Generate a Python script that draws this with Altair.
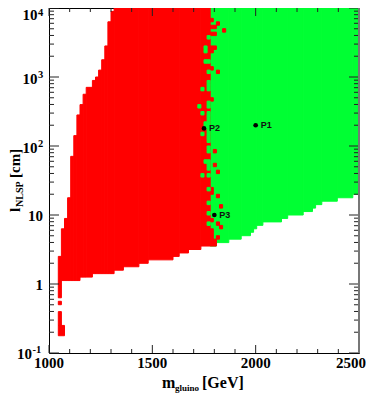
import altair as alt
import pandas as pd

W, H = 310, 345
RED = "#ff0000"
GREEN = "#00ff33"
SERIF = "Liberation Serif"

# ---------------- data ----------------
# red region, column blocks: left/right edge (GeV), top/bottom (cm)
red_m0 = [1045, 1060, 1075, 1090, 1105, 1120, 1135, 1150, 1165, 1180, 1210, 1225, 1240,
          1255, 1270, 1285, 1300, 1315, 1360, 1435, 1480, 1600, 1630, 1675, 1735,
          1045, 1045, 1045]
red_m1 = [1060, 1075, 1090, 1105, 1120, 1135, 1150, 1165, 1180, 1210, 1225, 1240, 1255,
          1270, 1285, 1300, 1315, 1360, 1435, 1480, 1600, 1630, 1675, 1735, 1780,
          1060, 1060, 1075]
red_top = [2.512, 6.310, 8.913, 17.78, 70.79, 141.3, 281.8, 398.1, 562.3, 707.9, 891.3, 1000,
           1259, 1778, 2818, 6310, 8913, 10000, 10000, 10000, 10000, 10000, 10000, 10000, 10000,
           0.562, 0.398, 0.251]
red_bot = [0.631, 1.122, 1.122, 1.122, 1.122, 1.122, 1.122, 1.259, 1.259, 1.259, 1.413, 1.413,
           1.413, 1.413, 1.413, 1.413, 1.413, 1.585, 1.778, 1.995, 2.239, 2.512, 2.818, 3.162,
           3.548, 0.501, 0.251, 0.178]

# green region, column blocks
grn_m0 = [1780, 1810, 1870, 1930, 1975, 1990, 2005, 2035, 2125, 2155, 2230, 2275, 2290, 2320, 2395, 2470]
grn_m1 = [1810, 1870, 1930, 1975, 1990, 2005, 2035, 2125, 2155, 2230, 2275, 2290, 2320, 2395, 2470, 2500]
grn_bot = [3.548, 3.981, 4.467, 5.012, 5.623, 6.310, 7.079, 7.943, 8.913, 10.0, 11.22, 12.59,
           14.13, 15.85, 17.78, 19.95]

# red/green border per grid row (row 0 = top, rows are 1/20 decade tall):
# GeV at which green starts in that row
edge_m = [1780, 1780, 1780, 1795, 1780, 1810, 1780, 1810, 1765, 1780,
          1780, 1810, 1795, 1780, 1780, 1765, 1780, 1795, 1765, 1780,
          1780, 1765, 1765, 1765, 1780, 1780, 1795, 1765, 1765, 1780,
          1765, 1765, 1765, 1750, 1750, 1765, 1765, 1765, 1765, 1780,
          1765, 1765, 1780, 1780, 1765, 1765, 1765, 1780, 1765, 1780,
          1780, 1780, 1795, 1795, 1780, 1780, 1765, 1780, 1780, 1765,
          1780, 1795, 1765, 1780, 1795, 1795, 1795, 1810, 1810]
# isolated cells (left edge GeV, grid row)
red_cell_m = [1810, 1840, 1810, 1795, 1795, 1810, 1810, 1825, 1810, 1825, 1810]
red_cell_r = [4, 6, 18, 41, 45, 47, 54, 57, 62, 63, 66]
grn_cell_m = [1750, 1750, 1750, 1735, 1720, 1735, 1735, 1750, 1735, 1765]
grn_cell_r = [11, 12, 15, 23, 28, 30, 36, 44, 48, 52]

pts_name = ["P1", "P2", "P3"]
pts_m = [2000, 1750, 1800]
pts_l = [200, 180, 10]

xt_major = [1000, 1500, 2000, 2500]
xt_minor = [1100, 1200, 1300, 1400, 1600, 1700, 1800, 1900, 2100, 2200, 2300, 2400]
yt_major = [0.1, 1, 10, 100, 1000, 10000]
ylab_base = ["10", "1", "10", "10", "10", "10"]
ylab_exp = ["-1", "", "", "2", "3", "4"]

CELL = 15.0  # grid column width (GeV)


def row_top(r):
    return 10 ** (4 - r / 20)


def row_bot(r):
    return 10 ** (4 - (r + 1) / 20)


# ---------------- tables ----------------
rows = []
for a, b, lo in zip(grn_m0, grn_m1, grn_bot):
    rows.append((a, b, 10000, lo, GREEN, 0))
for a, b, t, lo in zip(red_m0, red_m1, red_top, red_bot):
    rows.append((a, b, t, lo, RED, 1))
for r, e in enumerate(edge_m):
    if e > 1780:
        rows.append((1780, e, row_top(r), row_bot(r), RED, 2))
    elif e < 1780:
        rows.append((e, 1780, row_top(r), row_bot(r), GREEN, 2))
for m, r in zip(red_cell_m, red_cell_r):
    rows.append((m, m + CELL, row_top(r), row_bot(r), RED, 3))
for m, r in zip(grn_cell_m, grn_cell_r):
    rows.append((m, m + CELL, row_top(r), row_bot(r), GREEN, 3))
cells = pd.DataFrame(rows, columns=["m0", "m1", "lhi", "llo", "c", "z"])

xs = alt.Scale(domain=[1000, 2500], nice=False, zero=False)
ys = alt.Scale(type="log", domain=[0.1, 10000], nice=False)

layers = []
for z in range(4):
    d = cells[cells.z == z]
    layers.append(
        alt.Chart(d).mark_rect(strokeWidth=1).encode(
            x=alt.X("m0:Q", scale=xs, axis=None),
            x2="m1:Q",
            y=alt.Y("lhi:Q", scale=ys, axis=None),
            y2="llo:Q",
            color=alt.Color("c:N", scale=None),
            stroke=alt.Stroke("c:N", scale=None),
        )
    )

# ticks
TICK = "#222222"
xmaj = pd.DataFrame({"m": xt_major})
xmin = pd.DataFrame({"m": xt_minor})
for df, ln in ((xmaj, 8), (xmin, 4)):
    layers.append(alt.Chart(df).mark_rule(color=TICK).encode(
        x=alt.X("m:Q", scale=xs, axis=None), y=alt.value(H), y2=alt.value(H - ln)))
    layers.append(alt.Chart(df).mark_rule(color=TICK).encode(
        x=alt.X("m:Q", scale=xs, axis=None), y=alt.value(0), y2=alt.value(ln)))

ymin_vals = [d * k for d in yt_major[:-1] for k in range(2, 10)]
ymaj = pd.DataFrame({"l": yt_major})
ymin = pd.DataFrame({"l": ymin_vals})
for df, ln in ((ymaj, 10), (ymin, 5)):
    layers.append(alt.Chart(df).mark_rule(color=TICK).encode(
        y=alt.Y("l:Q", scale=ys, axis=None), x=alt.value(0), x2=alt.value(ln)))
    layers.append(alt.Chart(df).mark_rule(color=TICK).encode(
        y=alt.Y("l:Q", scale=ys, axis=None), x=alt.value(W - ln), x2=alt.value(W)))
# right frame drawn a bit heavier/grey as in the reference
layers.append(alt.Chart(pd.DataFrame({"m": [2500]})).mark_rule(color="#777777", strokeWidth=2).encode(
    x=alt.X("m:Q", scale=xs, axis=None), y=alt.value(0), y2=alt.value(H)))

# x tick labels (last one kept inside the page)
xlab = pd.DataFrame({"m": xt_major[:-1]})
layers.append(alt.Chart(xlab).mark_text(font=SERIF, fontWeight="bold", fontSize=15,
                                        baseline="alphabetic", align="center", color="black").encode(
    x=alt.X("m:Q", scale=xs, axis=None), y=alt.value(H + 15), text=alt.Text("m:Q", format="d")))
layers.append(alt.Chart(pd.DataFrame({"m": xt_major[-1:]})).mark_text(
    font=SERIF, fontWeight="bold", fontSize=15, baseline="alphabetic", align="right", dx=7,
    color="black").encode(
    x=alt.X("m:Q", scale=xs, axis=None), y=alt.value(H + 15), text=alt.Text("m:Q", format="d")))

# y tick labels (base "10" + superscript exponent)
base_dy = {"-1": 1, "2": 2, "3": 2, "4": 7}
exp_dy = {"-1": -3, "2": -2, "3": -2, "4": 5}
for l, b, e in zip(yt_major, ylab_base, ylab_exp):
    d = pd.DataFrame({"l": [l], "b": [b], "e": [e]})
    if e == "":
        layers.append(alt.Chart(d).mark_text(font=SERIF, fontWeight="bold", fontSize=15, align="right",
                                             baseline="middle", dy=1, color="black").encode(
            y=alt.Y("l:Q", scale=ys, axis=None), x=alt.value(-6), text="b:N"))
    else:
        xe = -6 - 5.5 * len(e)
        layers.append(alt.Chart(d).mark_text(font=SERIF, fontWeight="bold", fontSize=15, align="right",
                                             baseline="middle", dy=base_dy[e], color="black").encode(
            y=alt.Y("l:Q", scale=ys, axis=None), x=alt.value(xe), text="b:N"))
        layers.append(alt.Chart(d).mark_text(font=SERIF, fontWeight="bold", fontSize=10.5, align="left",
                                             baseline="middle", dy=exp_dy[e], color="black").encode(
            y=alt.Y("l:Q", scale=ys, axis=None), x=alt.value(xe + 0.5), text="e:N"))

# points
pts = pd.DataFrame({"n": pts_name, "m": pts_m, "l": pts_l})
layers.append(alt.Chart(pts).mark_circle(size=22, color="black", opacity=1).encode(
    x=alt.X("m:Q", scale=xs, axis=None), y=alt.Y("l:Q", scale=ys, axis=None)))
layers.append(alt.Chart(pts).mark_text(font="Liberation Sans", fontWeight="bold", fontSize=9,
                                       align="left", baseline="middle", dx=5, color="#111111").encode(
    x=alt.X("m:Q", scale=xs, axis=None), y=alt.Y("l:Q", scale=ys, axis=None), text="n:N"))


def txt(t, x, y, size, angle=0):
    return alt.Chart(pd.DataFrame({"t": [t]})).mark_text(
        text=t, font=SERIF, fontWeight="bold", fontSize=size, align="left",
        baseline="alphabetic", angle=angle, color="black").encode(x=alt.value(x), y=alt.value(y))


# x title: m_gluino [GeV]
layers.append(txt("m", 113, 380, 16))
layers.append(txt("gluino", 126, 383, 9))
layers.append(txt("[GeV]", 153, 380, 16))
# y title: l_NLSP [cm]
layers.append(txt("l", -29, 204, 15, 270))
layers.append(txt("NLSP", -26, 199, 10, 270))
layers.append(txt("[cm]", -29, 170, 15, 270))

chart = alt.layer(*layers).properties(
    width=W, height=H,
    autosize=alt.AutoSizeParams(type="none"),
    padding={"left": 41, "top": 0, "right": 7, "bottom": 40},
).configure_view(stroke="black", strokeWidth=1)

chart.save("out.html", embed_options={"renderer": "svg", "actions": False})
